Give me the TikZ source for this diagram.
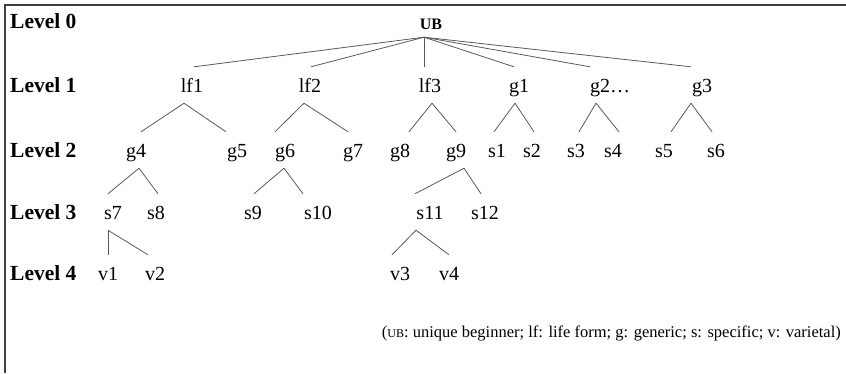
\documentclass[tikz,border=0pt]{standalone}
\usepackage{fontspec}
\setmainfont{Liberation Serif}
\begin{document}
\begin{tikzpicture}[x=1pt,y=-1pt,
  lab/.style={font=\fontsize{20}{24}\selectfont, inner xsep=0pt, inner ysep=11pt, text height=14pt, text depth=0pt, anchor=base},
  lvl/.style={font=\bfseries\fontsize{21.5}{24}\selectfont, inner sep=0pt, anchor=base west},
  edge/.style={draw=black!65, line width=0.8pt}]
\useasboundingbox (0,0) rectangle (846,373);
\draw[black!75, line width=1.5pt] (846,5) -- (5,5) -- (5,373);
% level labels
\node[lvl] (L0) at (10,28) {Level 0};
\node[lvl] (L1) at (10,92) {Level 1};
\node[lvl] (L2) at (10,157) {Level 2};
\node[lvl] (L3) at (10,219) {Level 3};
\node[lvl] (L4) at (10,280) {Level 4};
% level 0
\node[font=\bfseries\fontsize{16}{18}\selectfont, inner xsep=0pt, inner ysep=8pt, text depth=0pt, anchor=base] (ub) at (431,29) {UB};
% level 1
\node[lab] (lf1) at (192,92) {lf1};
\node[lab] (lf2) at (310,92) {lf2};
\node[lab] (lf3) at (430,92) {lf3};
\node[lab] (g1) at (519,92) {g1};
\node[lab] (g2) at (600,92) {g2\rlap{\ldots}};
\node[lab] (g3) at (702,92) {g3};
% level 2
\node[lab] (g4) at (136,157) {g4};
\node[lab] (g5) at (237,157) {g5};
\node[lab] (g6) at (285,157) {g6};
\node[lab] (g7) at (353,157) {g7};
\node[lab] (g8) at (400,157) {g8};
\node[lab] (g9) at (456,157) {g9};
\node[lab] (s1) at (497,157) {s1};
\node[lab] (s2) at (532,157) {s2};
\node[lab] (s3) at (576,157) {s3};
\node[lab] (s4) at (613,157) {s4};
\node[lab] (s5) at (664,157) {s5};
\node[lab] (s6) at (716,157) {s6};
% level 3
\node[lab] (s7) at (113,219) {s7};
\node[lab] (s8) at (156,219) {s8};
\node[lab] (s9) at (253,219) {s9};
\node[lab] (s10) at (318,219) {s10};
\node[lab] (s11) at (430,219) {s11};
\node[lab] (s12) at (485,219) {s12};
% level 4
\node[lab] (v1) at (108,280) {v1};
\node[lab] (v2) at (155,280) {v2};
\node[lab] (v3) at (400,280) {v3};
\node[lab] (v4) at (449,280) {v4};
% caption
\node[font=\fontsize{16.5}{20}\selectfont, inner sep=0pt, anchor=base east] (cap) at (841,337)
  {({\fontsize{12}{14}\selectfont UB}: unique beginner; lf: life form; g: generic; s: specific; v: varietal)};
% edges level 0 -> 1
\coordinate (ubtop) at ([xshift=-7pt]ub.south);
\draw[edge] (ubtop) -- ([xshift=2pt]lf1.north);
\draw[edge] (ubtop) -- ([xshift=1pt]lf2.north);
\draw[edge] (ubtop) -- ([xshift=-6pt]lf3.north);
\draw[edge] (ubtop) -- ([xshift=-5pt]g1.north);
\draw[edge] (ubtop) -- ([xshift=-10pt]g2.north);
\draw[edge] (ubtop) -- ([xshift=-11pt]g3.north);
% level 1 -> 2
\draw[edge] ([xshift=-8pt]lf1.south) -- ([xshift=5pt]g4.north);
\draw[edge] ([xshift=-8pt]lf1.south) -- ([xshift=-11pt]g5.north);
\draw[edge] ([xshift=-6pt]lf2.south) -- ([xshift=-10pt]g6.north);
\draw[edge] ([xshift=-6pt]lf2.south) -- ([xshift=-5pt]g7.north);
\draw[edge] ([xshift=2pt]lf3.south) -- ([xshift=9pt]g8.north);
\draw[edge] ([xshift=2pt]lf3.south) -- (g9.north);
\draw[edge] ([xshift=-4pt]g1.south) -- ([xshift=-3pt]s1.north);
\draw[edge] ([xshift=-4pt]g1.south) -- ([xshift=2pt]s2.north);
\draw[edge] ([xshift=-4pt]g2.south) -- ([xshift=3pt]s3.north);
\draw[edge] ([xshift=-4pt]g2.south) -- ([xshift=6pt]s4.north);
\draw[edge] ([xshift=-11pt]g3.south) -- ([xshift=7pt]s5.north);
\draw[edge] ([xshift=-11pt]g3.south) -- ([xshift=-4pt]s6.north);
% level 2 -> 3
\draw[edge] ([xshift=3pt]g4.south) -- ([xshift=-5pt]s7.north);
\draw[edge] ([xshift=3pt]g4.south) -- ([xshift=2pt]s8.north);
\draw[edge] ([xshift=-1pt]g6.south) -- ([xshift=1pt]s9.north);
\draw[edge] ([xshift=-1pt]g6.south) -- ([xshift=-15pt]s10.north);
\draw[edge] ([xshift=8pt]g9.south) -- ([xshift=-15pt]s11.north);
\draw[edge] ([xshift=8pt]g9.south) -- ([xshift=-4pt]s12.north);
% level 3 -> 4
\draw[edge] ([xshift=-5pt]s7.south) -- (v1.north);
\draw[edge] ([xshift=-5pt]s7.south) -- ([xshift=-7pt]v2.north);
\draw[edge] ([xshift=-14pt]s11.south) -- ([xshift=-8pt]v3.north);
\draw[edge] ([xshift=-14pt]s11.south) -- (v4.north);
\end{tikzpicture}
\end{document}
